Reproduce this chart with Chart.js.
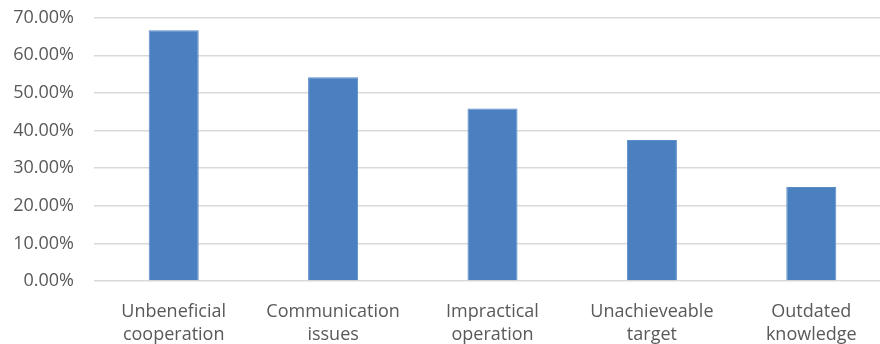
<!DOCTYPE html>
<html>
<head>
<meta charset="utf-8">
<script src="https://cdn.jsdelivr.net/npm/chart.js@4"></script>
<style>
  html, body { margin: 0; padding: 0; background: #fff; overflow: hidden; }
  #wrap { width: 891px; height: 358px; position: relative; top: -14px; }
</style>
</head>
<body>
<div id="wrap"><canvas id="barrerasChart"></canvas></div>
<script>
// categorias (dos lineas cada una) y porcentajes
const categorias = [
  ['Unbeneficial', 'cooperation'],
  ['Communication', 'issues'],
  ['Impractical', 'operation'],
  ['Unachieveable', 'target'],
  ['Outdated', 'knowledge']
];
const porcentajes = [66.67, 54.17, 45.83, 37.5, 25.0];
const ejeY = { min: 0, max: 70, paso: 10 };

const fuente = { family: 'Open Sans', size: 18, lineHeight: 1.3 };

const ctx = document.getElementById('barrerasChart').getContext('2d');
new Chart(ctx, {
  type: 'bar',
  data: {
    labels: categorias,
    datasets: [{
      data: porcentajes,
      backgroundColor: '#4a80c0',
      borderColor: '#5a8cc8',
      borderWidth: 1,
      categoryPercentage: 1,
      barPercentage: 0.314
    }]
  },
  options: {
    responsive: true,
    maintainAspectRatio: false,
    animation: false,
    layout: { padding: { top: 4, right: 0, bottom: 0, left: 0 } },
    plugins: { legend: { display: false }, tooltip: { enabled: false } },
    scales: {
      x: {
        grid: { display: false, drawTicks: false },
        border: { display: false },
        ticks: {
          color: '#595959',
          font: fuente,
          padding: 19,
          maxRotation: 0,
          autoSkip: false
        },
        afterFit: (eje) => { eje.height = 63; }
      },
      y: {
        min: ejeY.min,
        max: ejeY.max,
        grid: { color: '#d9d9d9', lineWidth: 1.5, drawTicks: false },
        border: { display: false },
        ticks: {
          stepSize: ejeY.paso,
          color: '#595959',
          font: fuente,
          padding: 20,
          callback: (v) => v.toFixed(2) + '%'
        },
        afterFit: (eje) => { eje.width = 94; }
      }
    }
  }
});
</script>
</body>
</html>
